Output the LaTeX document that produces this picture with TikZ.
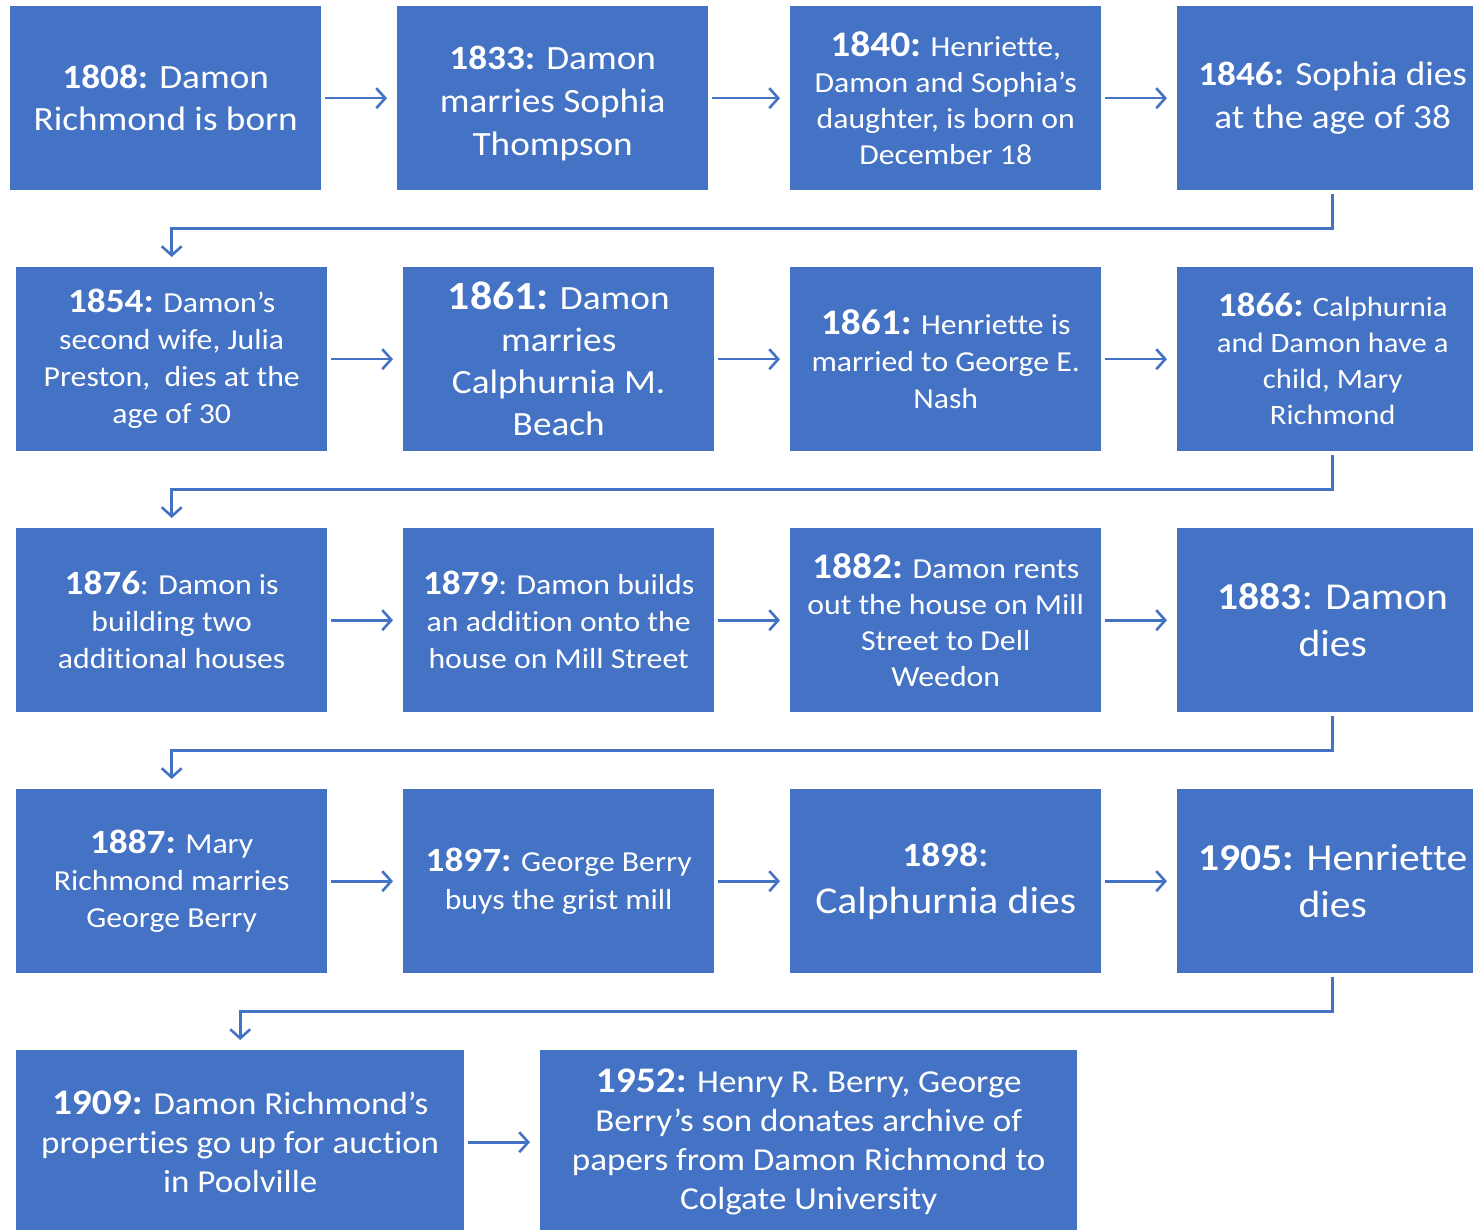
\documentclass[tikz,border=0pt]{standalone}
\usepackage{fontspec}
\defaultfontfeatures{}
\setmainfont{Carlito}[FakeStretch=1.095, Ligatures=NoCommon]
\usetikzlibrary{arrows.meta}
\definecolor{boxblue}{HTML}{4472C4}
\newcommand\fs[2]{\fontsize{#1}{#2}\selectfont}
\newcommand\yr[2]{{\fontsize{#1}{#1}\selectfont\bfseries #2}}
\tikzset{
  ev/.style={fill=boxblue, draw=none, text=white, align=center, anchor=north west,
    minimum width=311pt, minimum height=184pt, inner sep=0pt},
  arr/.style={draw=boxblue, line width=2.6pt, -{Straight Barb[length=9pt,width=20pt,line width=2.6pt]},
    shorten <=4pt, shorten >=10pt},
  lnk/.style={arr}
}
\begin{document}
\begin{tikzpicture}[x=1pt,y=-1pt]
\useasboundingbox (0,0) rectangle (1473,1230);
\clip (0,0) rectangle (1473,1230);
% row 1
\node[ev, font=\fs{34}{42}] (b1) at (10,6) {\yr{34}{1808:} Damon\\Richmond is born};
\node[ev, font=\fs{34}{43}] (b2) at (397,6) {\rule{0pt}{34pt}\yr{34}{1833:} Damon\\marries Sophia\\Thompson};
\node[ev, font=\fs{29}{36}] (b3) at (790,6) {\yr{36}{1840:} Henriette,\\Damon and Sophia's\\daughter, is born on\\December 18};
\node[ev, font=\fs{34}{43}] (b4) at (1177,6) {\yr{34}{1846:} Sophia dies\\at the age of 38};
% row 2
\node[ev, font=\fs{29}{37}] (b5) at (16,267) {\yr{34}{1854:} Damon’s\\second wife, Julia\\Preston,\ \ dies at the\\age of 30};
\node[ev, font=\fs{34}{42}] (b6) at (403,267) {\yr{40}{1861:} Damon\\marries\\Calphurnia M.\\Beach};
\node[ev, font=\fs{29}{37}] (b7) at (790,267) {\yr{36}{1861:} Henriette is\\married to George E.\\Nash};
\node[ev, font=\fs{28}{36}] (b8) at (1177,267) {\yr{34}{1866:} Calphurnia\\and Damon have a\\child, Mary\\Richmond};
% row 3
\node[ev, font=\fs{29}{37}] (b9) at (16,528) {\yr{34}{1876}: Damon is\\building two\\additional houses};
\node[ev, font=\fs{29}{37}] (b10) at (403,528) {\yr{34}{1879}: Damon builds\\an addition onto the\\house on Mill Street};
\node[ev, font=\fs{29}{36}] (b11) at (790,528) {\yr{36}{1882:} Damon rents\\out the house on Mill\\Street to Dell\\Weedon};
\node[ev, font=\fs{38}{47}] (b12) at (1177,528) {\yr{38}{1883}: Damon\\dies};
% row 4
\node[ev, font=\fs{29}{37}] (b13) at (16,789) {\yr{34}{1887:} Mary\\Richmond marries\\George Berry};
\node[ev, font=\fs{29}{38}] (b14) at (403,789) {\yr{34}{1897:} George Berry\\buys the grist mill};
\node[ev, font=\fs{38}{47}] (b15) at (790,789) {\yr{34}{1898}:\\Calphurnia dies};
\node[ev, font=\fs{38}{47}] (b16) at (1177,789) {\yr{38}{1905:} Henriette\\dies};
% row 5
\node[ev, minimum width=448pt, font=\fs{32}{39}] (b17) at (16,1050) {\yr{36}{1909:} Damon Richmond's\\properties go up for auction\\in Poolville};
\node[ev, minimum width=537pt, font=\fs{32}{39}] (b18) at (540,1050) {\yr{36}{1952:} Henry R. Berry, George\\Berry’s son donates archive of\\papers from Damon Richmond to\\Colgate University};
% horizontal arrows
\foreach \a/\b in {b1/b2,b2/b3,b3/b4,b5/b6,b6/b7,b7/b8,b9/b10,b10/b11,b11/b12,b13/b14,b14/b15,b15/b16,b17/b18}
  \draw[arr] (\a.east) -- (\b.west);
% row links
\draw[lnk] (b4.south) -- ++(0,38) -| (b5.north);
\draw[lnk] (b8.south) -- ++(0,38) -| (b9.north);
\draw[lnk] (b12.south) -- ++(0,38) -| (b13.north);
\draw[lnk] (b16.south) -- ++(0,38) -| (b17.north);
\end{tikzpicture}
\end{document}
